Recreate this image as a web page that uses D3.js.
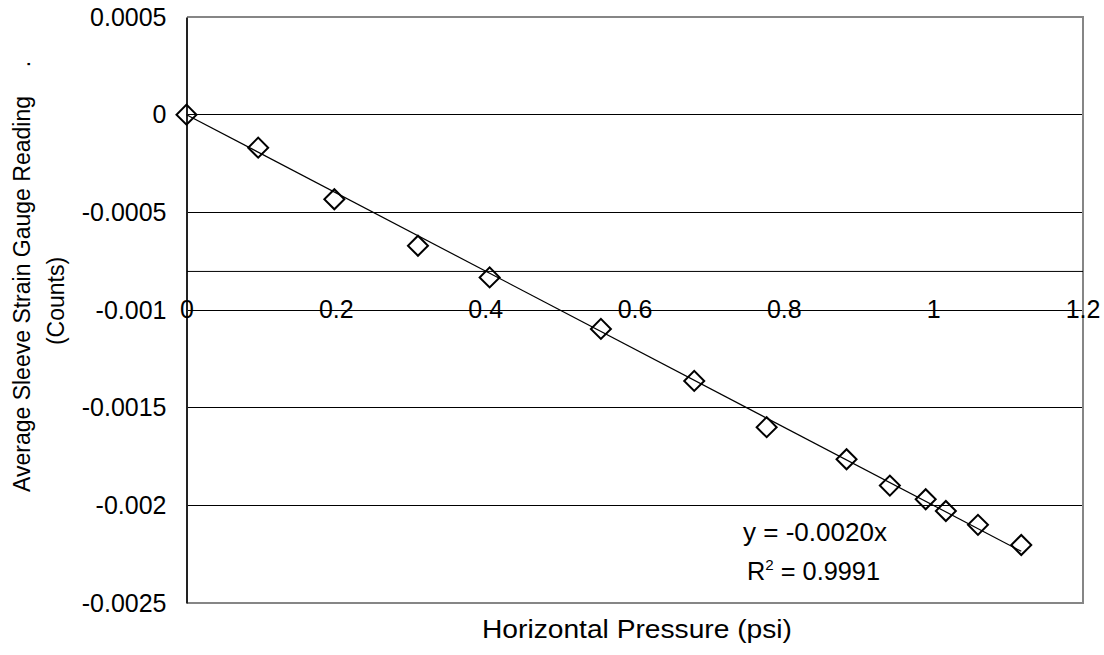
<!DOCTYPE html>
<html>
<head>
<meta charset="utf-8">
<script src="https://cdn.jsdelivr.net/npm/d3@7"></script>
<style>
  html, body { margin: 0; padding: 0; background: #fff; }
  svg { display: block; font-family: "Liberation Sans", Arial, sans-serif; }
</style>
</head>
<body>
<svg id="chart" width="1104" height="655"></svg>
<script>
// Calibration readings: horizontal pressure (psi) vs average sleeve strain gauge reading
const pressure = [0, 0.096, 0.198, 0.310, 0.406, 0.555, 0.680, 0.777, 0.884, 0.942, 0.990, 1.017, 1.060, 1.118];
const reading  = [0, -0.000169, -0.000433, -0.000671, -0.000833, -0.001097, -0.001363, -0.0016, -0.001764, -0.001899, -0.001969, -0.002029, -0.0021, -0.002203];

const xTicks = [0, 0.2, 0.4, 0.6, 0.8, 1, 1.2];
const xTickLabels = ["0", "0.2", "0.4", "0.6", "0.8", "1", "1.2"];
const yTicks = [0.0005, 0, -0.0005, -0.001, -0.0015, -0.002, -0.0025];
const yTickLabels = ["0.0005", "0", "-0.0005", "-0.001", "-0.0015", "-0.002", "-0.0025"];
const xAxisCrossing = -0.0008;
const rSquared = 0.9991;

const svg = d3.select("#chart");
const plot = { left: 186.5, right: 1082.5, top: 17, bottom: 603 };

const x = d3.scaleLinear().domain([0, 1.2]).range([plot.left, plot.right]);
const y = d3.scaleLinear().domain([0.0005, -0.0025]).range([plot.top, plot.bottom]);

// Horizontal gridlines
svg.append("g")
  .selectAll("line")
  .data(yTicks.slice(1, -1))
  .join("line")
  .attr("x1", plot.left).attr("x2", plot.right)
  .attr("y1", d => y(d)).attr("y2", d => y(d))
  .attr("stroke", "#000").attr("stroke-width", 1)
  .attr("shape-rendering", "crispEdges");

// Plot area frame (grey) on top, right and bottom
svg.append("path")
  .attr("d", `M${plot.left},${plot.top}H${plot.right}V${plot.bottom}H${plot.left}`)
  .attr("fill", "none")
  .attr("stroke", "#868686").attr("stroke-width", 2)
  .attr("shape-rendering", "crispEdges");

// Y axis
const yAxis = svg.append("g")
  .attr("transform", `translate(${plot.left},0)`)
  .call(d3.axisLeft(y).tickValues(yTicks).tickSize(0).tickPadding(20)
    .tickFormat((d, i) => yTickLabels[i]));
yAxis.select(".domain").attr("stroke", "#222").attr("stroke-width", 2);
yAxis.selectAll("text").attr("font-size", 25).attr("fill", "#000")
  .attr("font-family", "'Liberation Sans', Arial, sans-serif");

// X axis crossing at -0.0008
const xAxis = svg.append("g")
  .attr("transform", `translate(0,${y(xAxisCrossing)})`)
  .call(d3.axisBottom(x).tickValues(xTicks).tickSize(0).tickPadding(29)
    .tickFormat((d, i) => xTickLabels[i]));
xAxis.select(".domain").attr("stroke", "#000").attr("stroke-width", 1);
xAxis.selectAll("text").attr("font-size", 25).attr("fill", "#000")
  .attr("font-family", "'Liberation Sans', Arial, sans-serif");

// Linear trendline through the origin (least squares)
const sxy = d3.sum(pressure, (p, i) => p * reading[i]);
const sxx = d3.sum(pressure, p => p * p);
const slope = sxy / sxx;
const xMax = d3.max(pressure);
svg.append("line")
  .attr("x1", x(0)).attr("y1", y(0))
  .attr("x2", x(xMax)).attr("y2", y(slope * xMax))
  .attr("stroke", "#000").attr("stroke-width", 1.2);

// Data markers: hollow diamonds
const diamond = d3.symbol().type(d3.symbolSquare).size(200);
svg.append("g")
  .selectAll("path")
  .data(pressure.map((p, i) => [p, reading[i]]))
  .join("path")
  .attr("d", diamond)
  .attr("transform", d => `translate(${x(d[0])},${y(d[1])}) rotate(45)`)
  .attr("fill", "none")
  .attr("stroke", "#000").attr("stroke-width", 2);

// Trendline equation and R-squared
const eq = svg.append("g").attr("font-size", 25).attr("fill", "#000");
eq.append("text")
  .attr("x", 743).attr("y", 541)
  .attr("textLength", 144).attr("lengthAdjust", "spacingAndGlyphs")
  .text(`y = ${d3.format(".4f")(slope).replace("\u2212", "-")}x`);
const r2 = eq.append("text").attr("x", 747).attr("y", 580)
  .attr("textLength", 133).attr("lengthAdjust", "spacingAndGlyphs");
r2.append("tspan").text("R");
r2.append("tspan").attr("font-size", 15).attr("dy", -10).text("2");
r2.append("tspan").attr("dy", 10).text(` = ${rSquared}`);

// Axis titles
svg.append("text")
  .attr("x", 637).attr("y", 638)
  .attr("text-anchor", "middle")
  .attr("font-size", 26)
  .attr("textLength", 310).attr("lengthAdjust", "spacingAndGlyphs")
  .text("Horizontal Pressure (psi)");

const yTitle = svg.append("g").attr("font-size", 23).attr("text-anchor", "middle");
yTitle.append("text")
  .attr("transform", "translate(30,294) rotate(-90)")
  .text("Average Sleeve Strain Gauge Reading");
yTitle.append("text")
  .attr("transform", "translate(64,301) rotate(-90)")
  .text("(Counts)");
yTitle.append("text")
  .attr("transform", "translate(30,64) rotate(-90)")
  .text(".");
</script>
</body>
</html>
